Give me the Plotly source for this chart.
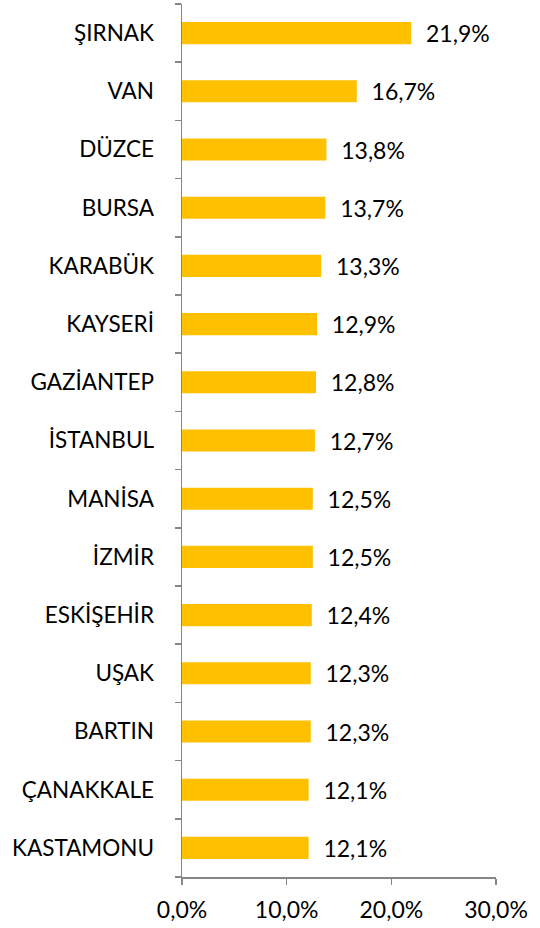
import plotly.graph_objects as go

categories = ["ŞIRNAK", "VAN", "DÜZCE", "BURSA", "KARABÜK", "KAYSERİ", "GAZİANTEP",
              "İSTANBUL", "MANİSA", "İZMİR", "ESKİŞEHİR", "UŞAK", "BARTIN",
              "ÇANAKKALE", "KASTAMONU"]
values = [21.9, 16.7, 13.8, 13.7, 13.3, 12.9, 12.8, 12.7, 12.5, 12.5, 12.4, 12.3, 12.3, 12.1, 12.1]
x_ticks = [0, 10, 20, 30]
x_tick_labels = [f"{v:.1f}%".replace(".", ",") for v in x_ticks]

font_family = "Lato, Carlito, Calibri, sans-serif"
axis_color = "#868686"

fig = go.Figure(go.Bar(
    x=values, y=categories, orientation="h",
    marker=dict(color="#FFC000", line=dict(width=0)),
    width=0.38,
    texttemplate="\u00a0\u00a0%{x:.1f}%",
    textposition="outside",
    constraintext="none",
    textfont=dict(size=23, color="#000000", family=font_family),
    cliponaxis=False,
    hoverinfo="skip",
))

fig.update_layout(
    width=540, height=928,
    margin=dict(l=182, r=44, t=4, b=51, autoexpand=False),
    paper_bgcolor="white", plot_bgcolor="white",
    separators=",.",
    showlegend=False,
    font=dict(family=font_family, size=22, color="#000000"),
)
fig.update_xaxes(
    range=[0, 30], tickvals=x_ticks, ticktext=x_tick_labels,
    automargin=False,
    showgrid=False, zeroline=False,
    showline=True, linecolor=axis_color, linewidth=1.5,
    ticks="outside", ticklen=6, tickcolor=axis_color, tickwidth=1.5,
    tickfont=dict(size=23),
    ticklabelstandoff=6,
)
fig.update_yaxes(
    categoryorder="array", categoryarray=categories[::-1],
    automargin=False,
    showgrid=False, zeroline=False,
    showline=True, linecolor=axis_color, linewidth=1.5,
    ticks="outside", ticklen=6, tickcolor=axis_color, tickwidth=1.5,
    tickson="boundaries",
    tickfont=dict(size=22.5),
    ticklabelstandoff=22,
)

fig.write_html(
    "out.html",
    config={"displayModeBar": False, "staticPlot": True},
    post_script="document.body.style.margin='0';document.body.style.overflow='hidden';",
)
